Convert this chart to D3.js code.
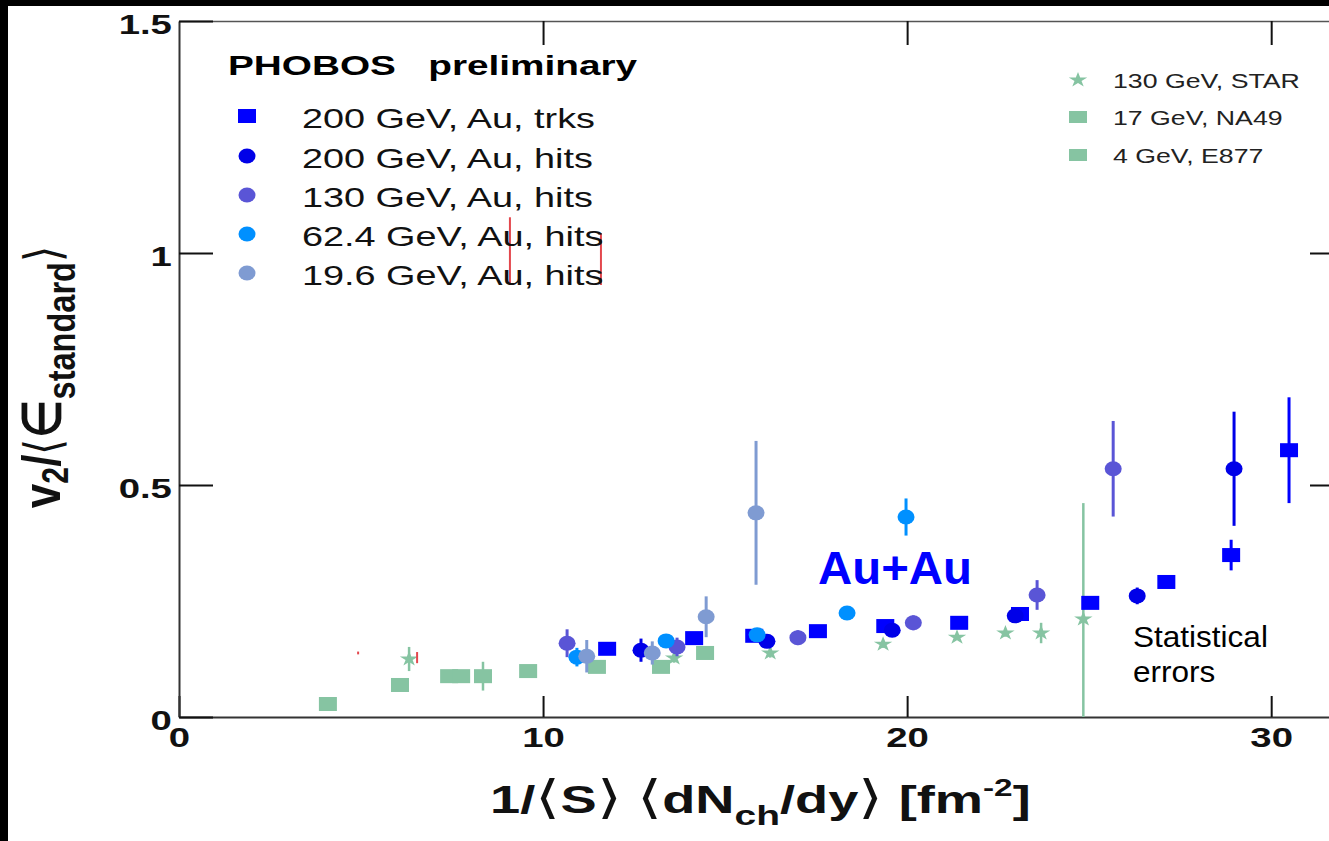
<!DOCTYPE html>
<html>
<head>
<meta charset="utf-8">
<script src="https://cdn.jsdelivr.net/npm/d3@7"></script>
<style>
  body { margin: 0; background: #000; }
  svg { display: block; }
  text { font-family: "Liberation Sans", Arial, Helvetica, sans-serif; }
</style>
</head>
<body>
<svg id="chart" width="1329" height="841"></svg>
<script>
// each point: [1/S dN/dy, v2/eps, stat. error]
var trks200 = [[11.76, 0.147, 0], [14.15, 0.170, 0], [15.80, 0.175, 0], [17.55, 0.185, 0],
  [19.40, 0.196, 0], [21.43, 0.203, 0], [23.10, 0.222, 0], [25.03, 0.246, 0],
  [27.12, 0.291, 0], [28.90, 0.349, 0.033], [30.49, 0.575, 0.114]];
var hits200 = [[12.69, 0.144, 0.025], [16.15, 0.163, 0.010], [19.59, 0.187, 0.010],
  [22.97, 0.218, 0.008], [26.32, 0.261, 0.018], [28.98, 0.535, 0.123]];
var hits130 = [[10.66, 0.159, 0.030], [13.68, 0.151, 0.020], [17.00, 0.171, 0.016],
  [20.17, 0.203, 0.016], [23.57, 0.263, 0.032], [25.66, 0.535, 0.103]];
var hits62 = [[10.93, 0.129, 0.020], [13.38, 0.164, 0.010], [15.88, 0.177, 0.010],
  [18.35, 0.224, 0], [19.97, 0.431, 0.040]];
var hits19 = [[11.20, 0.131, 0.035], [13.00, 0.138, 0.025], [14.48, 0.216, 0.044],
  [15.85, 0.440, 0.155]];
var star130 = [[6.32, 0.125, 0.026], [13.60, 0.127, 0.010], [16.24, 0.138, 0.010],
  [19.34, 0.157, 0.008], [21.37, 0.172, 0.006], [22.70, 0.181, 0.008],
  [23.68, 0.181, 0.022], [24.84, 0.211, 0.250]];
var na49 = [[7.75, 0.088, 0], [8.35, 0.088, 0.031], [9.59, 0.099, 0], [11.48, 0.108, 0],
  [13.24, 0.108, 0], [14.45, 0.138, 0]];
var e877 = [[4.09, 0.028, 0], [6.07, 0.069, 0], [7.42, 0.088, 0]];
// stray red error bars of the original figure
var redBars = [[4.92, 0.138, 0.003], [6.54, 0.128, 0.012], [9.09, 1.004, 0.073], [11.59, 0.987, 0.056]];

var xTicks = [0, 10, 20, 30];
var xTickLabels = ["0", "10", "20", "30"];
var yTicks = [0, 0.5, 1, 1.5];
var yTickLabels = ["0", "0.5", "1", "1.5"];
var legendLeft = ["200 GeV, Au, trks", "200 GeV, Au, hits", "130 GeV, Au, hits",
  "62.4 GeV, Au, hits", "19.6 GeV, Au, hits"];
var legendRight = ["130 GeV, STAR", "17 GeV, NA49", "4 GeV, E877"];

var blue = "#0000ff", blue2 = "#0000e8", violet = "#5a55d6", sky = "#0090ff",
    steel = "#7f9bd2", green = "#86c4a2", red = "#e3474d";

var svg = d3.select("#chart");
var x = d3.scaleLinear().domain([0, 32]).range([179, 1344]);
var y = d3.scaleLinear().domain([0, 1.5]).range([717, 21]);

// black frame of the scanned slide
svg.append("rect").attr("width", 1329).attr("height", 841).attr("fill", "#000");
svg.append("rect").attr("x", 8).attr("y", 6).attr("width", 1321).attr("height", 835).attr("fill", "#fff");

// horizontally stretch a text so its width matches target
function fit(sel, target, sy) {
  var w = sel.node().getBBox().width;
  var tr = sel.attr("transform") || "";
  sel.attr("transform", tr + " scale(" + (target / w) + "," + (sy || 1) + ")");
  return target / w;
}

function styleAxis(g) {
  g.attr("font-family", null).attr("font-size", null);
  g.select(".domain").attr("stroke", "#333").attr("stroke-width", 2);
  g.selectAll(".tick line").attr("stroke", "#111").attr("stroke-width", 2);
  g.selectAll(".tick text").attr("font-size", 27).attr("font-weight", "bold")
    .attr("fill", "#111").attr("transform", "scale(1.42,1)");
}

// axes
svg.append("g").attr("transform", "translate(0," + y(1.5) + ")")
  .call(d3.axisTop(x).tickValues([10, 20, 30]).tickSizeInner(-24).tickSizeOuter(0).tickFormat(""))
  .call(styleAxis)
  .select(".domain").attr("stroke-width", 1.5).attr("stroke", "#555");

svg.append("g").attr("transform", "translate(" + x(32) + ",0)")
  .call(d3.axisRight(y).tickValues([0.5, 1]).tickSizeInner(-34).tickSizeOuter(0).tickFormat(""))
  .call(styleAxis);

svg.append("g").attr("transform", "translate(0," + y(0) + ")")
  .call(d3.axisBottom(x).tickValues(xTicks).tickSizeInner(-21).tickSizeOuter(0).tickPadding(11)
    .tickFormat(function(d, i) {return xTickLabels[i];}))
  .call(styleAxis);

svg.append("g").attr("transform", "translate(" + x(0) + ",0)")
  .call(d3.axisLeft(y).tickValues(yTicks).tickSizeInner(-34).tickSizeOuter(0).tickPadding(5)
    .tickFormat(function(d, i) {return yTickLabels[i];}))
  .call(styleAxis)
  .selectAll(".tick text").attr("dy", "0.47em");

// markers
function marker(g, shape, color, cx, cy) {
  if (shape === "square") {
    g.append("rect").attr("x", cx - 9).attr("y", cy - 7).attr("width", 18).attr("height", 14).attr("fill", color);
  } else if (shape === "circle") {
    g.append("ellipse").attr("cx", cx).attr("cy", cy).attr("rx", 8.5).attr("ry", 7.5).attr("fill", color);
  } else if (shape === "star") {
    g.append("path").attr("d", d3.symbol(d3.symbolStar, 80)())
      .attr("transform", "translate(" + cx + "," + cy + ") scale(1.15,0.95)").attr("fill", color);
  }
}

function drawSeries(data, shape, color, errWidth) {
  var g = svg.append("g");
  g.selectAll("line").data(data.filter(function(d) {return d[2] > 0;})).enter().append("line")
    .attr("x1", function(d) {return x(d[0]);})
    .attr("x2", function(d) {return x(d[0]);})
    .attr("y1", function(d) {return y(Math.max(0, d[1] - d[2]));})
    .attr("y2", function(d) {return y(d[1] + d[2]);})
    .attr("stroke", color).attr("stroke-width", errWidth);
  data.forEach(function(d) {marker(g, shape, color, x(d[0]), y(d[1]));});
}

drawSeries(e877, "square", green, 2.5);
drawSeries(na49, "square", green, 2.5);
drawSeries(star130, "star", green, 2.5);
drawSeries(redBars, "none", red, 2);
drawSeries(trks200, "square", blue, 3);
drawSeries(hits200, "circle", blue2, 3);
drawSeries(hits130, "circle", violet, 3);
drawSeries(hits62, "circle", sky, 3);
drawSeries(hits19, "circle", steel, 3);

// left legend
var leg = svg.append("g");
var title = leg.append("text").attr("transform", "translate(228,75)")
  .attr("font-size", 28).attr("font-weight", "bold").style("white-space", "pre")
  .text("PHOBOS   preliminary");
fit(title, 410);
var legShapes = ["square", "circle", "circle", "circle", "circle"];
var legColors = [blue, blue2, violet, sky, steel];
var legY = [116, 156, 195, 234, 273];
var sx = null;
legendLeft.forEach(function(t, i) {
  marker(leg, legShapes[i], legColors[i], 247, legY[i]);
  var tx = leg.append("text").attr("transform", "translate(302," + (legY[i] + 12) + ")")
    .attr("font-size", 27).attr("fill", "#111").text(t);
  if (sx === null) {sx = fit(tx, 293);}
  else {tx.attr("transform", tx.attr("transform") + " scale(" + sx + ",1)");}
});

// right legend
var legR = svg.append("g");
var legRShapes = ["star", "square", "square"];
var legRY = [80, 117, 155];
var sxR = null;
legendRight.forEach(function(t, i) {
  if (legRShapes[i] === "square") {
    legR.append("rect").attr("x", 1069).attr("y", legRY[i] - 6).attr("width", 18).attr("height", 12).attr("fill", green);
  } else {
    marker(legR, "star", green, 1078, legRY[i]);
  }
  var tx = legR.append("text").attr("transform", "translate(1113," + (legRY[i] + 8) + ")")
    .attr("font-size", 21).attr("fill", "#222").text(t);
  if (sxR === null) {sxR = fit(tx, 187);}
  else {tx.attr("transform", tx.attr("transform") + " scale(" + sxR + ",1)");}
});

// annotations
var au = svg.append("text").attr("transform", "translate(818,584)")
  .attr("font-size", 46).attr("font-weight", "bold").attr("fill", blue).text("Au+Au");
fit(au, 154);
var st = svg.append("text").attr("transform", "translate(1133,647)")
  .attr("font-size", 29).attr("fill", "#000").text("Statistical");
var sst = fit(st, 135);
svg.append("text").attr("transform", "translate(1133,682) scale(" + sst + ",1)")
  .attr("font-size", 29).attr("fill", "#000").text("errors");

// x title
var xt = svg.append("text").attr("transform", "translate(490,813)")
  .attr("font-size", 39).attr("font-weight", "bold").attr("fill", "#111");
function bracket(sel, ch, size) {
  sel.append("tspan").attr("font-weight", "normal").attr("font-size", size).text(ch);
}
xt.append("tspan").text("1/");
bracket(xt, "\u27E8", 46);
xt.append("tspan").text("S");
bracket(xt, "\u27E9", 46);
xt.append("tspan").text(" ");
bracket(xt, "\u27E8", 46);
xt.append("tspan").text("dN");
xt.append("tspan").attr("font-size", 28).attr("dy", 12).text("ch");
xt.append("tspan").attr("dy", -12).text("/dy");
bracket(xt, "\u27E9", 46);
xt.append("tspan").text(" [fm");
xt.append("tspan").attr("font-size", 24).attr("dy", -17).text("-2");
xt.append("tspan").attr("dy", 17).text("]");
fit(xt, 540);

// y title
var yt = svg.append("text").attr("transform", "translate(60,377) rotate(-90)")
  .attr("text-anchor", "middle").attr("font-size", 38).attr("font-weight", "bold").attr("fill", "#111");
yt.append("tspan").text("v");
yt.append("tspan").attr("font-size", 26).attr("dy", 6).text("2");
yt.append("tspan").attr("dy", -6).text("/");
bracket(yt, "\u27E8", 36);
yt.append("tspan").text("\u2208");
yt.append("tspan").attr("font-size", 28).attr("dy", 11).text("standard");
yt.append("tspan").attr("dy", -11).attr("font-weight", "normal").attr("font-size", 36).text("\u27E9");
fit(yt, 262, 1.4);
</script>
</body>
</html>
